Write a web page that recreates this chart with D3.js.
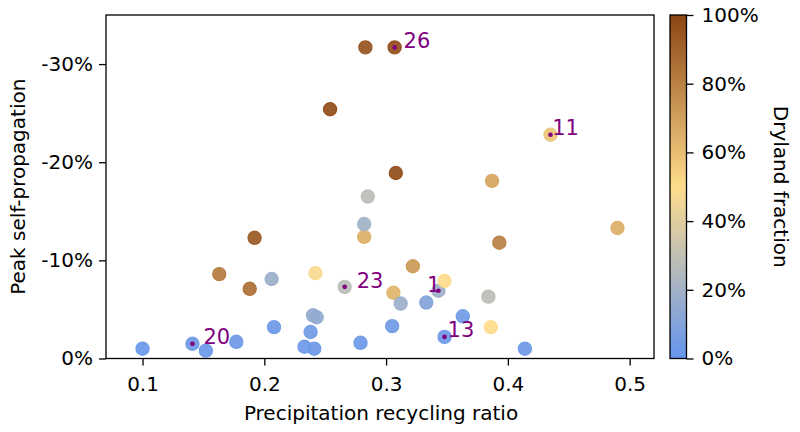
<!DOCTYPE html>
<html><head><meta charset="utf-8">
<script src="https://cdn.jsdelivr.net/npm/d3@7"></script>
<style>body{margin:0;background:#fff} text{font-family:"DejaVu Sans",sans-serif;fill:#000}</style>
</head><body><svg id="c" width="800" height="432"></svg>
<script>
// ---- data ----
const recyclingRatio = [0.100,0.141,0.152,0.177,0.163,0.188,0.192,0.206,0.208,0.233,
  0.241,0.238,0.240,0.243,0.242,0.254,0.266,0.279,0.282,0.282,
  0.285,0.283,0.307,0.308,0.305,0.306,0.312,0.322,0.333,0.343,
  0.348,0.348,0.363,0.384,0.386,0.393,0.414,0.387,0.435,0.490];
const peakSelfProp = [-0.010,-0.015,-0.008,-0.017,-0.086,-0.071,-0.123,-0.081,-0.032,-0.012,
  -0.010,-0.027,-0.044,-0.042,-0.087,-0.254,-0.073,-0.016,-0.124,-0.137,
  -0.165,-0.317,-0.317,-0.189,-0.033,-0.067,-0.056,-0.094,-0.057,-0.069,
  -0.079,-0.022,-0.043,-0.063,-0.032,-0.118,-0.010,-0.181,-0.228,-0.133];
const drylandFrac = [0.02,0.03,0.02,0.03,0.82,0.86,0.93,0.18,0.03,0.03,
  0.03,0.04,0.15,0.15,0.48,0.97,0.28,0.03,0.65,0.20,
  0.28,0.95,0.97,0.97,0.04,0.63,0.18,0.72,0.10,0.18,
  0.50,0.03,0.04,0.28,0.50,0.80,0.03,0.68,0.58,0.65];
const pointLabels = ["","20","","","","","","","","",
  "","","","","","","23","","","",
  "","","26","","","","","","","1",
  "","13","","","","","","","11",""];
const xTicks = [0.1,0.2,0.3,0.4,0.5];
const yTicks = [0,-0.1,-0.2,-0.3];
const yTickLabels = ["0%","-10%","-20%","-30%"];
const cbTicks = [0,0.2,0.4,0.6,0.8,1];
const cbTickLabels = ["0%","20%","40%","60%","80%","100%"];
const cmapStops = ["#6495ED","#FFDC8C","#8B4513"];

// ---- layout ----
const L = 106, R = 654, T = 15, B = 358.5;
const cbL = 670, cbW = 16.5;
const labelOffset = {"20":[11,0.5],"23":[12,1],"26":[9,0.5],"1":[-11.5,1],"13":[3,0.4],"11":[1.7,0]};

const svg = d3.select("#c");
const x = d3.scaleLinear().domain([0.07,0.52]).range([L,R]);
const y = d3.scaleLinear().domain([0,-0.35]).range([B,T]);
const color = d3.scaleLinear().domain([0,0.5,1]).range(cmapStops).interpolate(d3.interpolateRgb);
const cy = d3.scaleLinear().domain([0,1]).range([B,T]);

const pts = recyclingRatio.map((v,i)=>({x:v,y:peakSelfProp[i],c:drylandFrac[i],lab:pointLabels[i]}));

// points
const g = svg.append("g");
g.selectAll("circle.pt").data(pts).join("circle").attr("class","pt")
  .attr("cx",d=>x(d.x)).attr("cy",d=>y(d.y)).attr("r",6.6)
  .attr("fill",d=>color(d.c)).attr("fill-opacity",0.92)
  .attr("stroke",d=>color(d.c)).attr("stroke-opacity",0.92).attr("stroke-width",1.2);

const lp = pts.filter(d=>d.lab!=="");
g.selectAll("circle.dot").data(lp).join("circle").attr("class","dot")
  .attr("cx",d=>x(d.x)).attr("cy",d=>y(d.y)).attr("r",2.3).attr("fill","#800080");
g.selectAll("text.lab").data(lp).join("text").attr("class","lab")
  .attr("x",d=>x(d.x)+labelOffset[d.lab][0]).attr("y",d=>y(d.y)+labelOffset[d.lab][1])
  .style("fill","#800080").style("font-size","21px").text(d=>d.lab);

// frame
svg.append("rect").attr("x",L).attr("y",T).attr("width",R-L).attr("height",B-T)
  .attr("fill","none").attr("stroke","#000").attr("stroke-width",1.3);

// x axis
const xa = svg.append("g").attr("transform",`translate(0,${B})`)
  .call(d3.axisBottom(x).tickValues(xTicks).tickSize(7).tickPadding(11).tickFormat(d3.format(".1f")));
// y axis
const ya = svg.append("g").attr("transform",`translate(${L},0)`)
  .call(d3.axisLeft(y).tickValues(yTicks).tickSize(7).tickPadding(6).tickFormat((d,i)=>yTickLabels[i]));
[xa,ya].forEach(a=>{a.select(".domain").remove();
  a.selectAll(".tick line").attr("stroke","#000").attr("stroke-width",1.3);
  a.selectAll(".tick text").style("font-size","20px").attr("font-family",null);});

svg.append("text").attr("x",(L+R)/2+1).attr("y",420).attr("text-anchor","middle")
  .style("font-size","20px").text("Precipitation recycling ratio");
svg.append("text").attr("transform",`translate(25,${(T+B)/2}) rotate(-90)`).attr("text-anchor","middle")
  .style("font-size","20px").text("Peak self-propagation");

// colorbar
const defs = svg.append("defs");
const grad = defs.append("linearGradient").attr("id","cb").attr("x1",0).attr("y1",1).attr("x2",0).attr("y2",0);
grad.selectAll("stop").data(d3.range(0,1.0001,0.05)).join("stop")
  .attr("offset",d=>d).attr("stop-color",d=>color(d));
svg.append("rect").attr("x",cbL).attr("y",T).attr("width",cbW).attr("height",B-T)
  .attr("fill","url(#cb)").attr("stroke","#000").attr("stroke-width",1.3);
const ca = svg.append("g").attr("transform",`translate(${cbL+cbW},0)`)
  .call(d3.axisRight(cy).tickValues(cbTicks).tickSize(7).tickPadding(8).tickFormat((d,i)=>cbTickLabels[i]));
ca.select(".domain").remove();
ca.selectAll(".tick line").attr("stroke","#000").attr("stroke-width",1.3);
ca.selectAll(".tick text").style("font-size","20px").attr("font-family",null);
svg.append("text").attr("transform",`translate(774,${(T+B)/2}) rotate(90)`).attr("text-anchor","middle")
  .style("font-size","20px").text("Dryland fraction");
</script></body></html>
